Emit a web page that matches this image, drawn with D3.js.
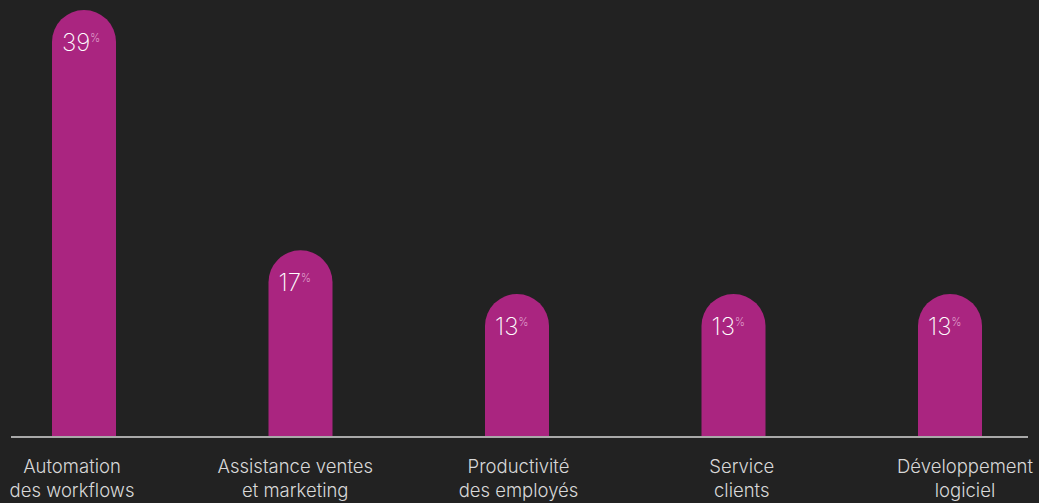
<!DOCTYPE html>
<html>
<head>
<meta charset="utf-8">
<script src="https://cdn.jsdelivr.net/npm/d3@7"></script>
<style>
    html, body { margin: 0; padding: 0; background: #222222; }
    svg { display: block; }
    text { font-family: 'Inter', 'Lato', sans-serif; }
</style>
</head>
<body>
<div id="chart"></div>
<script>
// chart data
var categories = ['Automation des workflows', 'Assistance ventes et marketing', 'Productivité des employés', 'Service clients', 'Développement logiciel'];
var labelLines = [
    ['Automation', 'des workflows'],
    ['Assistance ventes', 'et marketing'],
    ['Productivité', 'des employés'],
    ['Service', 'clients'],
    ['Développement', 'logiciel']
];
var values = [39, 17, 13, 13, 13];

var width = 1039,
    height = 503;
var baseY = 436;
var barWidth = 64;

var svg = d3.select('#chart')
    .append('svg')
    .attr('width', width)
    .attr('height', height);

var x = d3.scalePoint()
    .domain(categories)
    .range([84, 950]);

// labels sit a bit off the bar centres in the original
var xLabel = d3.scalePoint()
    .domain(categories)
    .range([72, 965]);

var y = d3.scaleLinear()
    .domain([0, 39])
    .range([baseY, 10]);

function barPath(d, i) {
    var cx = x(categories[i]);
    var r = barWidth / 2;
    var top = y(d);
    var left = cx - r, right = cx + r;
    return 'M' + left + ',' + baseY +
        'L' + left + ',' + (top + r) +
        'A' + r + ',' + r + ' 0 0 1 ' + right + ',' + (top + r) +
        'L' + right + ',' + baseY + 'Z';
}

svg.selectAll('.bar')
    .data(values)
    .enter()
    .append('path')
    .attr('class', 'bar')
    .attr('d', barPath)
    .attr('fill', '#aa2580');

// axis line
svg.append('line')
    .attr('x1', 11)
    .attr('x2', 1028)
    .attr('y1', baseY + 1)
    .attr('y2', baseY + 1)
    .attr('stroke', '#a9a9a9')
    .attr('stroke-width', 2);

// value labels
var vals = svg.selectAll('.val')
    .data(values)
    .enter()
    .append('text')
    .attr('class', 'val')
    .attr('x', function(d, i) { return x(categories[i]) - 22; })
    .attr('y', function(d) { return y(d) + 41; })
    .attr('fill', '#ffffff')
    .style('font-size', '24px')
    .style('font-weight', 200);

vals.append('tspan')
    .text(function(d) { return d; });

vals.append('tspan')
    .attr('dy', -9)
    .attr('fill', '#f0c8e0')
    .style('font-size', '11px')
    .text('%');

// category labels
var cats = svg.selectAll('.cat')
    .data(categories)
    .enter()
    .append('text')
    .attr('class', 'cat')
    .attr('text-anchor', 'middle')
    .attr('fill', '#d8d8d8')
    .style('font-size', '18.5px')
    .style('font-weight', 300);

cats.selectAll('tspan')
    .data(function(d, i) {
        return labelLines[i].map(function(t) { return { t: t, c: d }; });
    })
    .enter()
    .append('tspan')
    .attr('x', function(d) { return xLabel(d.c); })
    .attr('y', function(d, j) { return 473 + j * 24; })
    .text(function(d) { return d.t; });
</script>
</body>
</html>
